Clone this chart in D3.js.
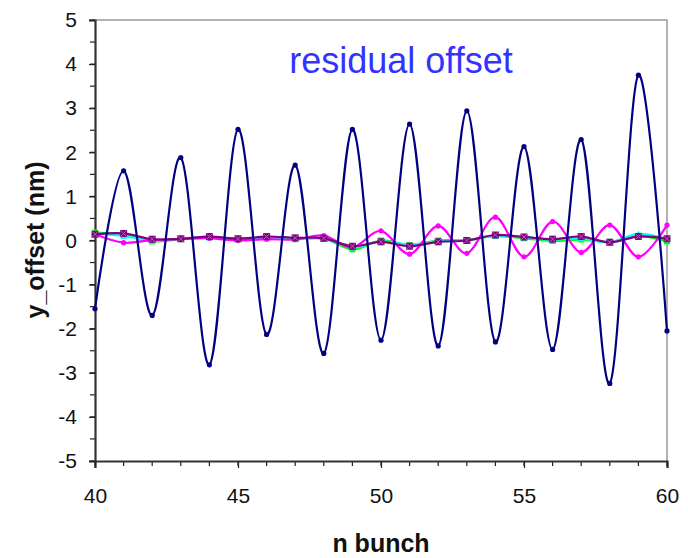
<!DOCTYPE html>
<html><head><meta charset="utf-8">
<script src="https://cdn.jsdelivr.net/npm/d3@7"></script>
<style>body{margin:0;background:#fff}svg{display:block}text{font-family:"Liberation Sans",Arial,sans-serif}</style>
</head><body><svg id="c" width="688" height="558"></svg>
<script>
const bunches = d3.range(40, 61);
const navy    = [-1.55,1.58,-1.70,1.88,-2.82,2.52,-2.13,1.71,-2.56,2.52,-2.26,2.64,-2.39,2.94,-2.30,2.13,-2.47,2.29,-3.24,3.75,-2.05];
const magenta = [0.14,-0.05,0.01,0.03,0.05,0.00,0.03,0.02,0.11,-0.16,0.22,-0.31,0.33,-0.29,0.53,-0.37,0.43,-0.27,0.35,-0.37,0.35];
const green   = [0.18,0.13,-0.02,0.03,0.08,0.03,0.05,0.03,0.04,-0.20,0.00,-0.10,0.00,0.01,0.10,0.05,-0.01,0.02,-0.03,0.10,-0.02];
const cyan    = [0.16,0.10,0.00,0.04,0.07,0.05,0.06,0.04,0.05,-0.16,-0.02,-0.09,-0.02,0.00,0.11,0.07,0.02,0.05,-0.04,0.15,0.03];
const purple  = [0.14,0.16,0.03,0.04,0.09,0.04,0.09,0.06,0.05,-0.13,-0.03,-0.13,-0.03,0.00,0.125,0.08,0.03,0.09,-0.04,0.09,0.04];
const yTicks = [-5,-4,-3,-2,-1,0,1,2,3,4,5];
const xTicks = [40,45,50,55,60];
const title = "residual offset";

const L=95,R=667,T=20,B=461;
const svg=d3.select("#c");
const x=d3.scaleLinear().domain([40,60]).range([L,R]);
const y=d3.scaleLinear().domain([-5,5]).range([B,T]);

svg.append("path").attr("d",`M${L},${T}H${R}V${B}`).attr("fill","none").attr("stroke","#999").attr("stroke-width",1.5);

svg.append("g").selectAll("line").data(d3.range(-5,5.01,0.5)).join("line")
  .attr("x1",L-5).attr("x2",L).attr("y1",d=>y(d)).attr("y2",d=>y(d)).attr("stroke","#222").attr("stroke-width",1.2);
svg.append("g").selectAll("line").data(d3.range(40,61,1)).join("line")
  .attr("x1",d=>x(d)).attr("x2",d=>x(d)).attr("y1",B).attr("y2",B+5).attr("stroke","#222").attr("stroke-width",1.2);

const fmt=d=>String(d);
const yAxis=svg.append("g").attr("transform",`translate(${L},0)`).call(d3.axisLeft(y).tickValues(yTicks).tickSize(6).tickPadding(12).tickFormat(fmt));
const xAxis=svg.append("g").attr("transform",`translate(0,${B})`).call(d3.axisBottom(x).tickValues(xTicks).tickSize(7).tickPadding(20).tickFormat(fmt));
[yAxis,xAxis].forEach(a=>{a.select(".domain").attr("stroke","#333").attr("stroke-width",2.2);
  a.selectAll(".tick line").attr("stroke","#222").attr("stroke-width",1.2);
  a.selectAll("text").attr("font-size",21).attr("fill","#111").attr("font-family","Liberation Sans, Arial, sans-serif");});

const line=d3.line().x((d,i)=>x(bunches[i])).y(d=>y(d)).curve(d3.curveCatmullRom.alpha(0));
const plot=svg.append("g");
const series=[
  {v:green,c:"#00FF00",m:"square"},
  {v:cyan,c:"#00FFFF",m:"triangle"},
  {v:magenta,c:"#FF00FF",m:"circle"},
  {v:purple,c:"#800080",m:"xsquare"},
  {v:navy,c:"#000080",m:"circle"}
];
series.forEach(s=>{
  plot.append("path").attr("d",line(s.v)).attr("fill","none").attr("stroke",s.c).attr("stroke-width",2.2);
  const g=plot.append("g");
  s.v.forEach((d,i)=>{
    const cx=x(bunches[i]),cy=y(d);
    if(s.m==="circle") g.append("circle").attr("cx",cx).attr("cy",cy).attr("r",2.6).attr("fill",s.c);
    else if(s.m==="square") g.append("rect").attr("x",cx-3).attr("y",cy-3).attr("width",6).attr("height",6).attr("fill",s.c);
    else if(s.m==="triangle") g.append("path").attr("d",`M${cx},${cy-3.5}L${cx+3.5},${cy+3}L${cx-3.5},${cy+3}Z`).attr("fill",s.c);
    else { g.append("rect").attr("x",cx-3.5).attr("y",cy-3.5).attr("width",7).attr("height",7).attr("fill",s.c);
      g.append("path").attr("d",`M${cx-3},${cy-3}L${cx+3},${cy+3}M${cx+3},${cy-3}L${cx-3},${cy+3}`).attr("stroke","#B060B0").attr("stroke-width",1);}
  });
});

svg.append("text").attr("x",401).attr("y",73).attr("text-anchor","middle").attr("font-size",36).attr("fill","#3333FF").text(title);
svg.append("text").attr("x",381).attr("y",552).attr("text-anchor","middle").attr("font-size",25).attr("font-weight","bold").attr("fill","#111").text("n bunch");
svg.append("text").attr("transform","translate(44,240) rotate(-90)").attr("text-anchor","middle").attr("font-size",25).attr("font-weight","bold").attr("fill","#111").text("y_offset (nm)");
</script></body></html>
